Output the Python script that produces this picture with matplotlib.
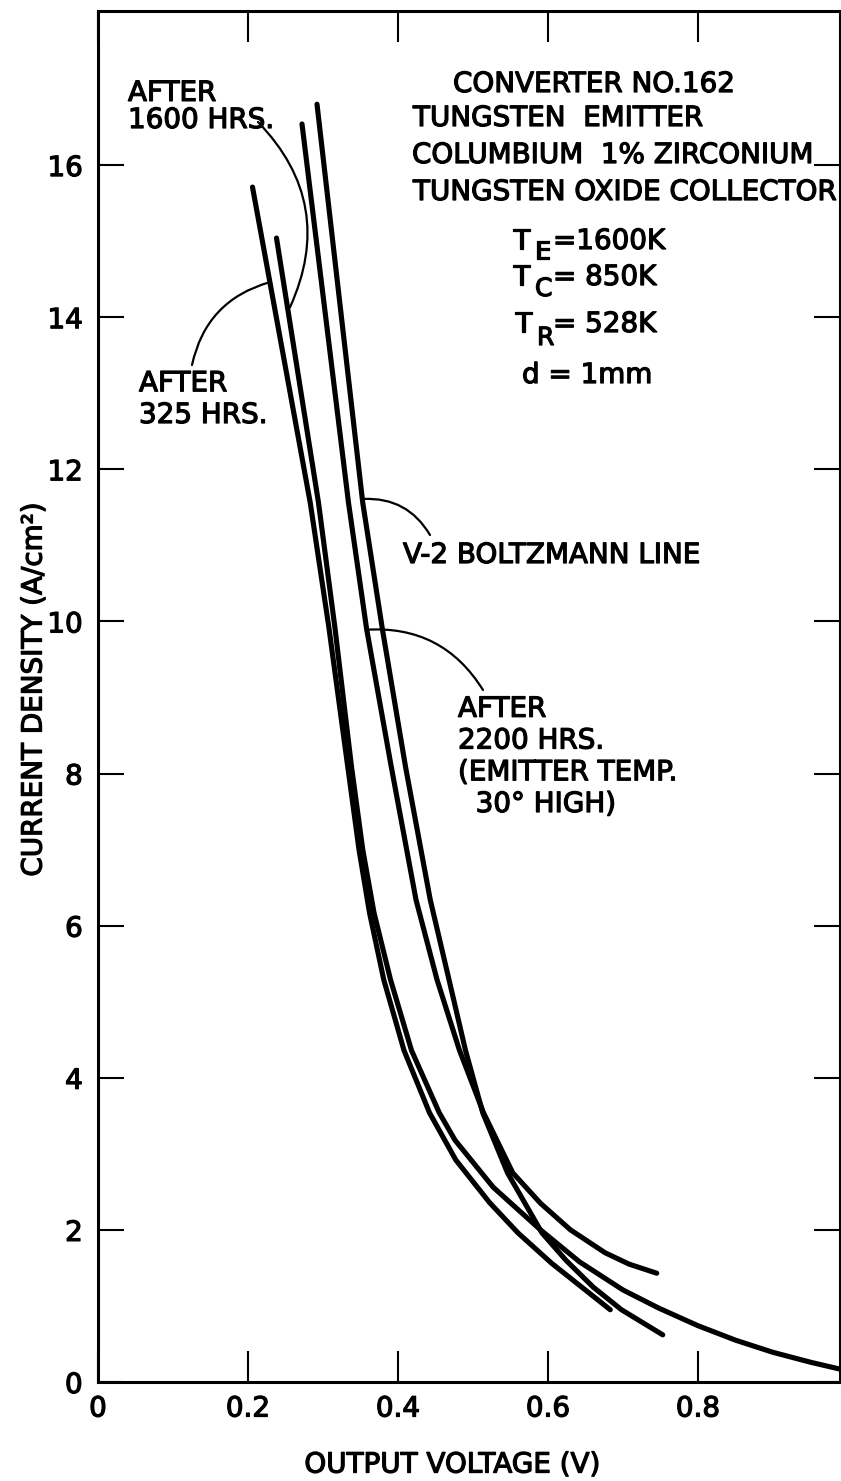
import matplotlib
matplotlib.use("Agg")
import matplotlib.pyplot as plt
import matplotlib.patheffects as pe

# ---------------- data ----------------
v_325 = [0.206, 0.283, 0.308, 0.333, 0.348, 0.362, 0.381, 0.408, 0.442, 0.477, 0.522, 0.560, 0.605, 0.683]
j_325 = [15.71, 11.56, 9.91, 8.09, 7.00, 6.17, 5.29, 4.36, 3.54, 2.92, 2.36, 1.96, 1.56, 0.95]

v_1600 = [0.238, 0.294, 0.316, 0.338, 0.353, 0.368, 0.390, 0.418, 0.455, 0.476, 0.527, 0.590, 0.642,
          0.700, 0.748, 0.800, 0.850, 0.900, 0.950, 0.989]
j_1600 = [15.04, 11.56, 9.91, 8.09, 7.00, 6.17, 5.29, 4.36, 3.54, 3.18, 2.56, 2.00, 1.58,
          1.21, 0.97, 0.74, 0.55, 0.39, 0.26, 0.17]

v_2200 = [0.272, 0.334, 0.358, 0.391, 0.424, 0.452, 0.482, 0.514, 0.553, 0.590, 0.630, 0.676, 0.708, 0.745]
j_2200 = [16.54, 11.56, 9.91, 8.09, 6.34, 5.29, 4.36, 3.54, 2.75, 2.35, 2.00, 1.70, 1.55, 1.43]

v_boltz = [0.292, 0.353, 0.379, 0.410, 0.443, 0.468, 0.490, 0.513, 0.546, 0.592, 0.624, 0.660, 0.698, 0.753]
j_boltz = [16.80, 11.56, 9.91, 8.09, 6.34, 5.29, 4.36, 3.54, 2.75, 1.96, 1.60, 1.25, 0.95, 0.62]

x_ticks = [0, 0.2, 0.4, 0.6, 0.8]
x_tick_labels = ["0", "0.2", "0.4", "0.6", "0.8"]
y_ticks = [0, 2, 4, 6, 8, 10, 12, 14, 16]
y_tick_labels = ["0", "2", "4", "6", "8", "10", "12", "14", "16"]

# ---------------- figure ----------------
W, H = 841, 1481
plt.rcParams['font.family'] = ['DejaVu Sans']
fig = plt.figure(figsize=(W / 100, H / 100), dpi=100)
fig.patch.set_facecolor('white')
ax = fig.add_axes([98 / W, 1 - 1382 / H, 742 / W, 1371 / H])
ax.set_xlim(0, 742 / 750)
ax.set_ylim(0, 1371 / 76.06)

bold = [pe.withStroke(linewidth=0.9, foreground='black')]

lw = 3.7
for v, j in [(v_325, j_325), (v_1600, j_1600), (v_2200, j_2200), (v_boltz, j_boltz)]:
    ax.plot(v, j, color='black', lw=lw, solid_capstyle='round', solid_joinstyle='round')

ax.set_xticks(x_ticks)
ax.set_xticklabels(x_tick_labels)
ax.set_yticks(y_ticks)
ax.set_yticklabels(y_tick_labels)
ax.tick_params(axis='both', direction='in', top=True, right=True, labelsize=20, width=1.5)
ax.tick_params(axis='x', length=22, pad=9)
ax.tick_params(axis='y', length=19, pad=11)
for lab in ax.get_xticklabels() + ax.get_yticklabels():
    lab.set_path_effects(bold)
for s in ax.spines.values():
    s.set_linewidth(2.2)

ax.set_xlabel("OUTPUT VOLTAGE (V)", fontsize=20, path_effects=bold)
ax.xaxis.set_label_coords(0.477, -0.050)
ax.set_ylabel("CURRENT DENSITY (A/cm²)", fontsize=20, path_effects=bold)
ax.yaxis.set_label_coords(-0.068, 0.505)


def ftext(px, py, s, size=20, ls=1.2, **kw):
    # py = baseline of the last line, in pixels from the top
    fig.text(px / W, 1 - py / H, s, fontsize=size, ha='left', va='baseline',
             linespacing=ls, path_effects=bold, **kw)


# header block
ftext(453, 92, "CONVERTER NO.162")
ftext(413, 126, "TUNGSTEN  EMITTER")
ftext(412, 163, "COLUMBIUM  1% ZIRCONIUM")
ftext(413, 200, "TUNGSTEN OXIDE COLLECTOR")

ftext(513, 249, "T")
ftext(535, 259, "E", size=18)
ftext(553, 249, "=1600K")
ftext(513, 285, "T")
ftext(535, 296, "C", size=18)
ftext(553, 285, "= 850K")
ftext(515, 332, "T")
ftext(537, 345, "R", size=18)
ftext(553, 332, "= 528K")
ftext(522, 383, "d = 1mm")

# curve labels
ftext(128, 128, "AFTER\n1600 HRS.", ls=0.96)
ftext(139, 423, "AFTER\n325 HRS.", ls=1.17)
ftext(403, 563, "V-2 BOLTZMANN LINE")
ftext(458, 812, "AFTER\n2200 HRS.\n(EMITTER TEMP.\n  30° HIGH)", ls=1.17)


def leader(xy, start_px, rad):
    ax.annotate('', xy=xy, xycoords='data',
                xytext=(start_px[0], H - start_px[1]), textcoords='figure pixels',
                arrowprops=dict(arrowstyle='-', lw=1.6, color='black',
                                connectionstyle=f'arc3,rad={rad}',
                                shrinkA=0, shrinkB=0))


leader((0.256, 14.13), (258, 122), -0.34)
leader((0.229, 14.46), (192, 365), -0.30)
leader((0.354, 11.61), (430, 535), 0.30)
leader((0.357, 9.89), (483, 690), 0.30)

fig.savefig("out.png", dpi=100, facecolor='white')
